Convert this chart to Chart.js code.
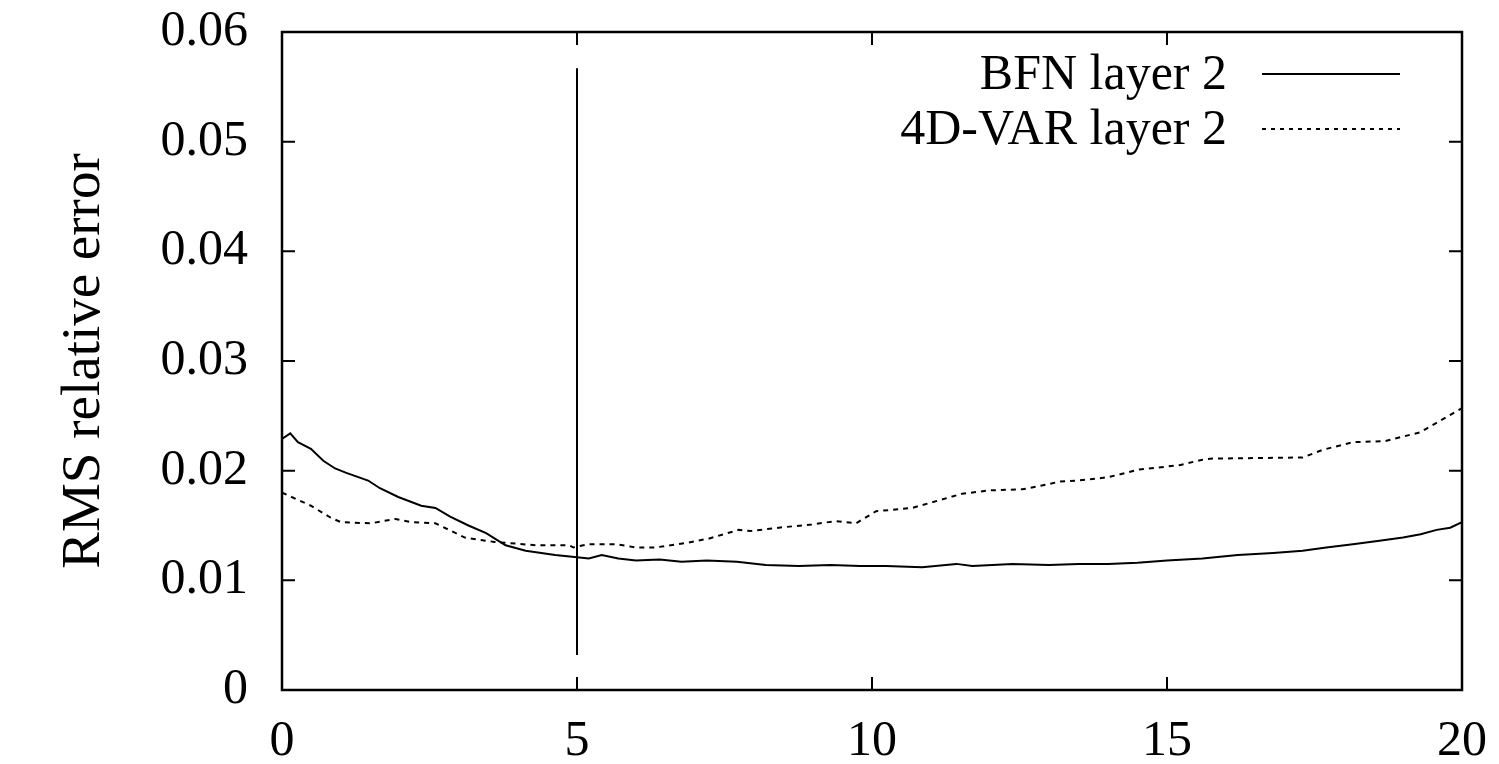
<!DOCTYPE html>
<html lang="en">
    <head>
        <meta charset="UTF-8" />
        <title>RMS relative error</title>
        <script src="https://cdn.jsdelivr.net/npm/chart.js@4.4.1/dist/chart.umd.min.js"></script>
        <style>
            body { margin: 0; background: #fff; }
        </style>
    </head>
    <body>
        <canvas id="chart" width="1499" height="764"></canvas>
        <script>
        // values
        const bfnX = [0, 0.14, 0.27, 0.49, 0.70, 0.90, 1.09, 1.46, 1.66, 1.97, 2.36, 2.60, 2.85, 3.16, 3.46, 3.79, 4.13, 4.63, 5.0, 5.2, 5.42, 5.7, 6.0, 6.4, 6.77, 7.2, 7.71, 8.2, 8.76, 9.3, 9.8, 10.24, 10.85, 11.43, 11.7, 12.38, 13.0, 13.5, 14.0, 14.5, 15.0, 15.6, 16.2, 16.8, 17.3, 17.7, 18.15, 18.6, 19.0, 19.3, 19.57, 19.8, 20];
        const bfnY = [0.0229, 0.0234, 0.0226, 0.0220, 0.0209, 0.0202, 0.0198, 0.0191, 0.0184, 0.0176, 0.0168, 0.0166, 0.0158, 0.0150, 0.0143, 0.0132, 0.0127, 0.0123, 0.0121, 0.0120, 0.0123, 0.0120, 0.0118, 0.0119, 0.0117, 0.0118, 0.0117, 0.0114, 0.0113, 0.0114, 0.0113, 0.0113, 0.0112, 0.0115, 0.0113, 0.0115, 0.0114, 0.0115, 0.0115, 0.0116, 0.0118, 0.0120, 0.0123, 0.0125, 0.0127, 0.0130, 0.0133, 0.0136, 0.0139, 0.0142, 0.0146, 0.0148, 0.0153];

        const varX = [0, 0.49, 0.83, 1.0, 1.51, 1.92, 2.19, 2.6, 3.1, 3.6, 3.84, 4.3, 4.86, 4.94, 5.2, 5.65, 6.0, 6.33, 6.84, 7.23, 7.74, 7.95, 8.42, 8.98, 9.39, 9.73, 10.07, 10.68, 11.14, 11.53, 11.99, 12.55, 12.84, 13.18, 13.5, 14.0, 14.53, 15.21, 15.6, 15.77, 17.3, 17.64, 18.15, 18.7, 19.29, 19.74, 20];
        const varY = [0.0180, 0.0168, 0.0157, 0.0153, 0.0152, 0.0156, 0.0153, 0.0152, 0.0139, 0.0135, 0.0134, 0.0132, 0.0132, 0.0130, 0.0133, 0.0133, 0.0130, 0.0130, 0.0134, 0.0138, 0.0146, 0.0145, 0.0148, 0.0151, 0.0154, 0.0152, 0.0163, 0.0166, 0.0173, 0.0179, 0.0182, 0.0183, 0.0186, 0.0190, 0.0191, 0.0194, 0.0201, 0.0205, 0.0210, 0.0211, 0.0212, 0.0219, 0.0226, 0.0227, 0.0235, 0.0249, 0.0257];

        // vertical marker at t = 5
        const markX = [5, 5];
        const markY = [0.0032, 0.0567];

        const xTicks = [0, 5, 10, 15, 20];
        const yTicks = [0, 0.01, 0.02, 0.03, 0.04, 0.05, 0.06];
        const legendLabels = ['BFN layer 2', '4D-VAR layer 2'];

        const font = '"Liberation Serif", "Times New Roman", serif';

        function pts(xs, ys) {
            return xs.map((x, i) => ({ x: x, y: ys[i] }));
        }

        // gnuplot-like frame with inward ticks on all four sides
        const framePlugin = {
            id: 'frame',
            afterDatasetsDraw(chart) {
                const c = chart.ctx;
                const a = chart.chartArea;
                const xs = chart.scales.x, ys = chart.scales.y;
                const len = 13;
                c.save();
                c.strokeStyle = '#000';
                c.lineWidth = 2.5;
                c.strokeRect(a.left, a.top, a.right - a.left, a.bottom - a.top);
                c.lineWidth = 2;
                c.beginPath();
                yTicks.forEach(v => {
                    const py = ys.getPixelForValue(v);
                    c.moveTo(a.left, py); c.lineTo(a.left + len, py);
                    c.moveTo(a.right, py); c.lineTo(a.right - len, py);
                });
                xTicks.forEach(v => {
                    const px = xs.getPixelForValue(v);
                    c.moveTo(px, a.bottom); c.lineTo(px, a.bottom - len);
                    c.moveTo(px, a.top); c.lineTo(px, a.top + len);
                });
                c.stroke();
                c.restore();
            }
        };

        // legend: text right aligned, line sample on its right
        const legendPlugin = {
            id: 'gpLegend',
            afterDatasetsDraw(chart) {
                const c = chart.ctx;
                c.save();
                c.font = '50px ' + font;
                c.fillStyle = '#000';
                c.textAlign = 'right';
                c.textBaseline = 'alphabetic';
                legendLabels.forEach((label, i) => {
                    const ds = chart.data.datasets[i];
                    const base = 89 + i * 55;
                    const mid = 74 + i * 55;
                    c.fillText(label, 1227, base);
                    c.beginPath();
                    c.lineWidth = 2;
                    c.strokeStyle = '#000';
                    c.setLineDash(ds.borderDash && ds.borderDash.length ? [4, 5] : []);
                    c.moveTo(1262, mid);
                    c.lineTo(1400, mid);
                    c.stroke();
                });
                c.restore();
            }
        };

        const ctx = document.getElementById('chart').getContext('2d');
        const myChart = new Chart(ctx, {
            type: 'line',
            data: {
                datasets: [{
                    label: legendLabels[0],
                    data: pts(bfnX, bfnY),
                    borderColor: '#000',
                    borderWidth: 2,
                    pointRadius: 0,
                    tension: 0
                }, {
                    label: legendLabels[1],
                    data: pts(varX, varY),
                    borderColor: '#000',
                    borderWidth: 2,
                    borderDash: [5, 5],
                    pointRadius: 0,
                    tension: 0
                }, {
                    label: 'marker',
                    data: pts(markX, markY),
                    borderColor: '#000',
                    borderWidth: 2,
                    pointRadius: 0
                }]
            },
            options: {
                responsive: false,
                animation: false,
                layout: { padding: { top: 32, right: 37, bottom: 0, left: 0 } },
                plugins: {
                    legend: { display: false },
                    tooltip: { enabled: false }
                },
                scales: {
                    x: {
                        type: 'linear',
                        min: 0,
                        max: 20,
                        grid: { display: false, drawTicks: false },
                        border: { display: false },
                        afterBuildTicks: s => { s.ticks = xTicks.map(v => ({ value: v })); },
                        afterFit: s => { s.height = 74; s.paddingLeft = 0; s.paddingRight = 0; },
                        ticks: {
                            color: '#000',
                            padding: 22,
                            maxRotation: 0,
                            font: { family: font, size: 50 },
                            callback: v => String(v)
                        }
                    },
                    y: {
                        type: 'linear',
                        min: 0,
                        max: 0.06,
                        grid: { display: false, drawTicks: false },
                        border: { display: false },
                        afterBuildTicks: s => { s.ticks = yTicks.map(v => ({ value: v })); },
                        afterFit: s => { s.width = 282; s.paddingTop = 0; s.paddingBottom = 0; },
                        ticks: {
                            color: '#000',
                            padding: 34,
                            font: { family: font, size: 50 },
                            callback: v => v === 0 ? '0' : v.toFixed(2)
                        },
                        title: {
                            display: true,
                            text: 'RMS relative error',
                            color: '#000',
                            padding: { top: 52, bottom: 0 },
                            font: { family: font, size: 55 }
                        }
                    }
                }
            },
            plugins: [framePlugin, legendPlugin]
        });
        </script>
    </body>
</html>
